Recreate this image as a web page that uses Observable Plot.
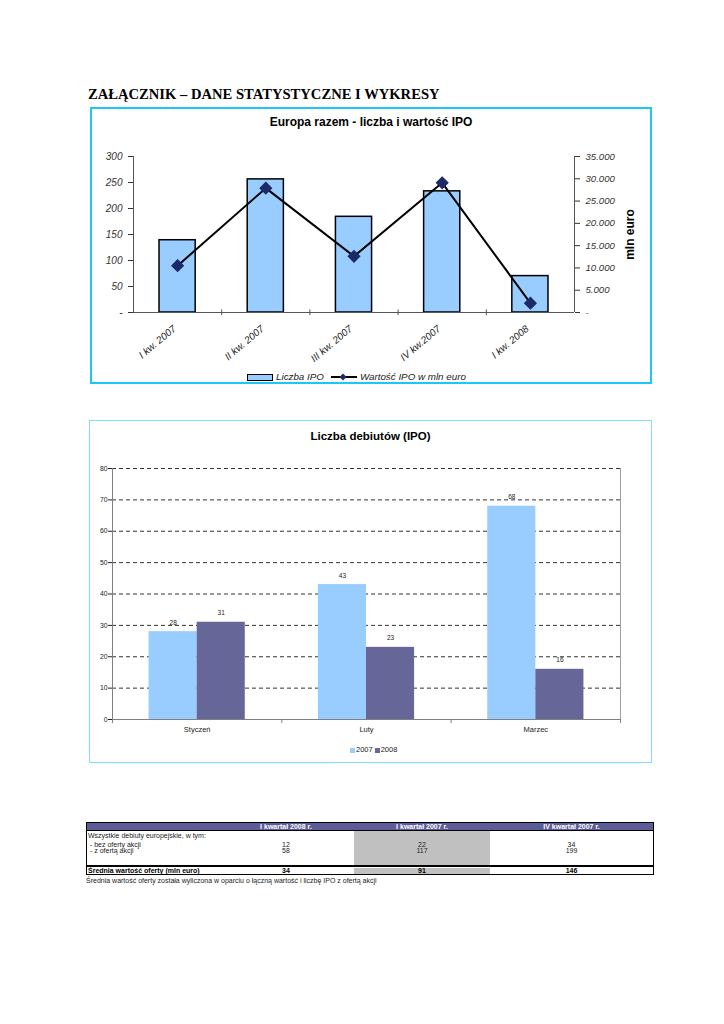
<!DOCTYPE html>
<html><head><meta charset="utf-8">
<script src="https://cdn.jsdelivr.net/npm/d3@7"></script>
<script src="https://cdn.jsdelivr.net/npm/@observablehq/plot@0.6"></script>
<style>
body{margin:0;background:#fff;}
#page{position:relative;width:724px;height:1024px;overflow:hidden;font-family:"Liberation Sans",Arial,sans-serif;color:#000;}
.abs{position:absolute;white-space:nowrap;}
</style></head>
<body><div id="page"></div>
<script>
// ---------- data ----------
const quarters = ["I kw. 2007", "II kw. 2007", "III kw. 2007", "IV kw.2007", "I kw. 2008"];
const ipoCount = [139, 256, 184, 233, 70];
const ipoValue = [10500, 27900, 12600, 29100, 2100];
const countTicks = [0, 50, 100, 150, 200, 250, 300];
const valueTicks = [0, 5000, 10000, 15000, 20000, 25000, 30000, 35000];
const seriesNames1 = ["Liczba IPO", "Wartość IPO w mln euro"];

const months = ["Styczeń", "Luty", "Marzec"];
const years = ["2007", "2008"];
const debuts2007 = [28, 43, 68];
const debuts2008 = [31, 23, 16];
const debutTicks = [0, 10, 20, 30, 40, 50, 60, 70, 80];

const tableHeaders = ["I kwartał 2008 r.", "I kwartał 2007 r.", "IV kwartał 2007 r."];
const tableIntro = "Wszystkie debiuty europejskie, w tym:";
const rowLabels = [" - bez oferty akcji", " - z ofertą akcji"];
const bezOferty = [12, 22, 34];
const zOferta = [58, 117, 199];
const avgLabel = "Średnia wartość oferty (mln euro)";
const avgValue = [34, 91, 146];
const footnote = "Średnia wartość oferty została wyliczona w oparciu o łączną wartość i liczbę IPO z ofertą akcji";

// ---------- helpers ----------
const page = document.getElementById("page");
function div(css, html) {
  const d = document.createElement("div");
  d.className = "abs";
  d.style.cssText = css;
  if (html !== undefined) d.innerHTML = html;
  page.appendChild(d);
  return d;
}
const VMAX = 35000, CMAX = 300;
const toCount = v => v * CMAX / VMAX;
const fmtPL = v => v === 0 ? "-" : (v / 1000) + ".000";

// ---------- page title ----------
div("left:88px;top:86px;font-family:'Liberation Serif','Times New Roman',serif;font-weight:bold;font-size:14.6px;line-height:16px;",
  "ZAŁĄCZNIK – DANE STATYSTYCZNE I WYKRESY");

// ---------- chart 1 ----------
div("left:90px;top:107px;width:562px;height:277px;box-sizing:border-box;border:2px solid #19c8f5;");
div("left:90px;top:115px;width:562px;text-align:center;font-weight:bold;font-size:12px;line-height:14px;",
  "Europa razem - liczba i wartość IPO");

const d1 = quarters.map((q, i) => ({i, q, c: ipoCount[i], v: ipoValue[i]}));
const chart1 = Plot.plot({
  width: 562, height: 222,
  marginLeft: 43, marginRight: 78, marginTop: 16, marginBottom: 50,
  style: {fontFamily: "'Liberation Sans', Arial, sans-serif", fontSize: "10px", background: "transparent", overflow: "visible"},
  x: {domain: [0, quarters.length], axis: null},
  y: {domain: [0, CMAX], axis: null},
  marks: [
    Plot.rectY(d1, {x1: d => d.i + 0.295, x2: d => d.i + 0.705, y1: 0, y2: "c", fill: "#99ccff", stroke: "#000", strokeWidth: 1.5}),
    Plot.ruleX([0], {y1: 0, y2: CMAX, stroke: "#555"}),
    Plot.ruleX([quarters.length], {y1: 0, y2: CMAX, stroke: "#555"}),
    Plot.ruleY([0], {stroke: "#555"}),
    Plot.ruleX(d3.range(1, quarters.length), {y1: 5, y2: -6, stroke: "#555"}),
    Plot.line(d1, {x: d => d.i + 0.5, y: d => toCount(d.v), stroke: "#000", strokeWidth: 2}),
    Plot.dot(d1, {x: d => d.i + 0.5, y: d => toCount(d.v), symbol: "diamond2", r: 5, fill: "#1c2a6a", stroke: "#1c2a6a"}),
    Plot.axisY(countTicks, {anchor: "left", tickFormat: d => d === 0 ? "-" : String(d), tickSize: 5, tickPadding: 6, fontStyle: "italic", fontSize: 10, color: "#333", label: null}),
    Plot.axisY(valueTicks.map(toCount), {anchor: "right", tickFormat: d => fmtPL(Math.round(d * VMAX / CMAX)), tickSize: 5, tickPadding: 6, fontStyle: "italic", fontSize: 9.6, color: "#333", label: null}),
    Plot.text(d1, {x: d => d.i + 0.5, y: 0, text: "q", rotate: -40, textAnchor: "end", dx: -3, dy: 15, fontStyle: "italic", fontSize: 10, fill: "#222"}),
    Plot.text(["mln euro"], {text: d => d, frameAnchor: "right", textAnchor: "middle", dx: 56, rotate: -90, fontWeight: "bold", fontSize: 12, fill: "#000"})
  ]
});
chart1.style.position = "absolute";
chart1.style.left = "90px";
chart1.style.top = "140px";
page.appendChild(chart1);

// legend 1
const lg1 = div("left:247px;top:370px;font-size:9.8px;font-style:italic;line-height:14px;color:#222;display:flex;align-items:center;");
lg1.innerHTML =
  `<span style="display:inline-block;width:24px;height:5px;background:#99ccff;border:1px solid #000;margin-right:3px"></span>${seriesNames1[0]}` +
  `<svg width="26" height="10" style="margin:0 3px 0 7px"><line x1="0" y1="5" x2="26" y2="5" stroke="#000" stroke-width="2"/><path d="M12,1.5L15.5,5L12,8.5L8.5,5Z" fill="#1c2a6a"/></svg>${seriesNames1[1]}`;

// ---------- chart 2 ----------
div("left:89px;top:420px;width:563px;height:343px;box-sizing:border-box;border:1.5px solid #7fdcfb;");
div("left:89px;top:429px;width:563px;text-align:center;font-weight:bold;font-size:11.5px;line-height:14px;",
  "Liczba debiutów (IPO)");

const d2 = months.map((m, i) => ({i, m, a: debuts2007[i], b: debuts2008[i]}));
const off = 0.216, bw = 0.284;
const chart2 = Plot.plot({
  width: 563, height: 290,
  marginLeft: 23, marginRight: 32, marginTop: 13, marginBottom: 26,
  style: {fontFamily: "'Liberation Sans', Arial, sans-serif", fontSize: "7px", background: "transparent", overflow: "visible"},
  x: {domain: [0, months.length], axis: null},
  y: {domain: [0, 80], axis: null},
  marks: [
    Plot.ruleY(debutTicks.filter(t => t > 0), {stroke: "#333", strokeDasharray: "4,3", strokeWidth: 1}),
    Plot.rectY(d2, {x1: d => d.i + off, x2: d => d.i + off + bw, y1: 0, y2: "a", fill: "#99ccff"}),
    Plot.rectY(d2, {x1: d => d.i + off + bw, x2: d => d.i + off + 2 * bw, y1: 0, y2: "b", fill: "#666699"}),
    Plot.text(d2, {x: d => d.i + off + bw / 2, y: "a", text: d => String(d.a), dy: -9, fontSize: 6.5, fill: "#222"}),
    Plot.text(d2, {x: d => d.i + off + 1.5 * bw, y: "b", text: d => String(d.b), dy: -9, fontSize: 6.5, fill: "#222"}),
    Plot.ruleX([0], {y1: 0, y2: 80, stroke: "#808080"}),
    Plot.ruleX([months.length], {y1: 0, y2: 80, stroke: "#a0a0a0"}),
    Plot.ruleY([0], {stroke: "#808080"}),
    Plot.ruleX(d3.range(0, months.length + 1), {y1: 0, y2: -1.3, stroke: "#808080"}),
    Plot.axisY(debutTicks, {anchor: "left", tickSize: 4, tickPadding: 1, fontSize: 6.8, color: "#222", label: null}),
    Plot.text(d2, {x: d => d.i + 0.5, y: 0, text: "m", dy: 10, fontSize: 7.5, fill: "#222"})
  ]
});
chart2.style.position = "absolute";
chart2.style.left = "89px";
chart2.style.top = "455px";
page.appendChild(chart2);

// legend 2
div("left:350px;top:745px;font-size:7.5px;line-height:10px;color:#222;display:flex;align-items:center;",
  `<span style="display:inline-block;width:5px;height:5px;background:#99ccff;margin-right:1px"></span>${years[0]}` +
  `<span style="display:inline-block;width:5px;height:5px;background:#666699;margin:0 1px 0 2px"></span>${years[1]}`);

// ---------- table ----------
const cols = [[218, 354], [354, 490], [490, 653]];
const fs = "font-size:7px;line-height:9px;";
div("left:86px;top:822px;width:568px;height:9px;box-sizing:border-box;background:#5c5c99;border:1px solid #000;");
tableHeaders.forEach((h, k) => div(`left:${cols[k][0]}px;top:822px;width:${cols[k][1] - cols[k][0]}px;text-align:center;color:#fff;font-weight:bold;${fs}`, h));
div("left:354px;top:831px;width:136px;height:35px;background:#c0c0c0;");
div("left:354px;top:868px;width:136px;height:6px;background:#c0c0c0;");
div("left:86px;top:822px;width:1px;height:53px;background:#000;");
div("left:653px;top:822px;width:1px;height:53px;background:#000;");
div(`left:88px;top:831px;${fs}color:#222;`, tableIntro);
div(`left:88px;top:839.5px;${fs}color:#222;white-space:pre;`, rowLabels[0]);
div(`left:88px;top:846px;${fs}color:#222;white-space:pre;`, rowLabels[1]);
[bezOferty, zOferta].forEach((arr, r) => arr.forEach((v, k) =>
  div(`left:${cols[k][0]}px;top:${r ? 846 : 839.5}px;width:${cols[k][1] - cols[k][0]}px;text-align:center;${fs}color:#222;`, String(v))));
div("left:86px;top:865px;width:568px;height:2px;background:#000;");
div("left:86px;top:874px;width:568px;height:1px;background:#000;");
div(`left:88px;top:866px;${fs}font-weight:bold;`, avgLabel);
avgValue.forEach((v, k) => div(`left:${cols[k][0]}px;top:866px;width:${cols[k][1] - cols[k][0]}px;text-align:center;font-weight:bold;${fs}`, String(v)));
div(`left:86px;top:876px;${fs}color:#222;`, footnote);
</script>
</body></html>
